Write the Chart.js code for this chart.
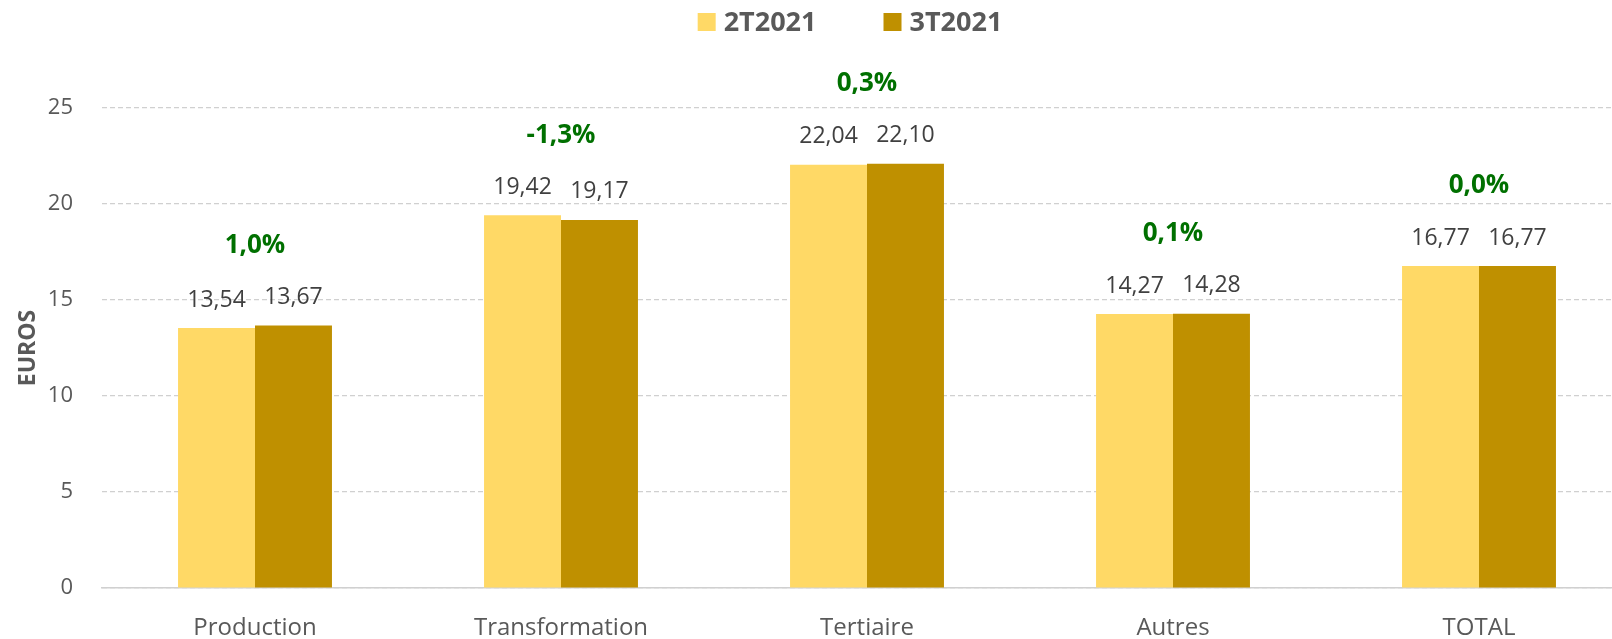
<!DOCTYPE html>
<html>
<head>
<meta charset="utf-8">
<script src="https://cdn.jsdelivr.net/npm/chart.js@4.4.1/dist/chart.umd.min.js"></script>
<style>
  html, body { margin: 0; padding: 0; background: #fff; overflow: hidden; }
  #wrap { width: 1612px; height: 639px; overflow: hidden; }
</style>
</head>
<body>
<div id="wrap"><canvas id="canvas" width="1632" height="639"></canvas></div>
<script>
const categories = ["Production", "Transformation", "Tertiaire", "Autres", "TOTAL"];
const seriesNames = ["2T2021", "3T2021"];
const values2T = [13.54, 19.42, 22.04, 14.27, 16.77];
const values3T = [13.67, 19.17, 22.10, 14.28, 16.77];
const changes = ["1,0%", "-1,3%", "0,3%", "0,1%", "0,0%"];
const yTicks = [0, 5, 10, 15, 20, 25];

const colors = {
    light: "#FFD966",
    dark: "#BF9000",
    text: "#595959",
    label: "#404040",
    green: "#007000",
    grid: "#D0D0D0"
};
const FONT = "'Open Sans', sans-serif";

function fmt(v) {
    return v.toFixed(2).replace(".", ",");
}

// value labels, percentage labels and the legend at the top
const labelsPlugin = {
    id: "labelsPlugin",
    afterDraw(chart) {
        const ctx = chart.ctx;
        ctx.save();
        ctx.textAlign = "center";
        ctx.textBaseline = "middle";

        // values above each bar
        ctx.font = "23px " + FONT;
        ctx.fillStyle = colors.label;
        chart.data.datasets.forEach((ds, di) => {
            chart.getDatasetMeta(di).data.forEach((bar, i) => {
                ctx.fillText(fmt(ds.data[i]), bar.x, bar.y - 28);
            });
        });

        // change in percent above each category
        ctx.font = "bold 26px " + FONT;
        ctx.fillStyle = colors.green;
        const xScale = chart.scales.x;
        categories.forEach((c, i) => {
            let top = Infinity;
            chart.data.datasets.forEach((ds, di) => {
                top = Math.min(top, chart.getDatasetMeta(di).data[i].y);
            });
            ctx.fillText(changes[i], xScale.getPixelForValue(i), top - 80);
        });

        // legend
        ctx.font = "bold 27px " + FONT;
        ctx.textAlign = "left";
        const box = 18, gapText = 8, gapItem = 67;
        const widths = chart.data.datasets.map(ds => box + gapText + ctx.measureText(ds.label).width);
        const total = widths.reduce((a, b) => a + b, 0) + gapItem * (widths.length - 1);
        const area = chart.chartArea;
        let x = (area.left + area.right) / 2 - 17 - total / 2;
        const y = 22;
        chart.data.datasets.forEach((ds, di) => {
            ctx.fillStyle = ds.backgroundColor;
            ctx.fillRect(x, y - box / 2, box, box);
            ctx.fillStyle = colors.text;
            ctx.fillText(ds.label, x + box + gapText, y + 1);
            x += widths[di] + gapItem;
        });
        ctx.restore();
    }
};

const ctx = document.getElementById("canvas").getContext("2d");

new Chart(ctx, {
    type: "bar",
    data: {
        labels: categories,
        datasets: [
            { label: seriesNames[0], data: values2T, backgroundColor: colors.light },
            { label: seriesNames[1], data: values3T, backgroundColor: colors.dark }
        ]
    },
    options: {
        responsive: false,
        animation: false,
        layout: {
            padding: { top: 108, right: 0, left: 10, bottom: 0 }
        },
        datasets: {
            bar: {
                barPercentage: 1,
                categoryPercentage: 0.503
            }
        },
        plugins: {
            legend: { display: false },
            tooltip: { enabled: false }
        },
        scales: {
            x: {
                grid: { display: false },
                border: { display: true, color: colors.grid, width: 1.5 },
                ticks: {
                    color: colors.text,
                    font: { family: FONT, size: 24 },
                    padding: 18,
                    maxRotation: 0
                },
                afterFit(scale) {
                    scale.height = 51;
                }
            },
            y: {
                min: 0,
                max: 25,
                afterBuildTicks(scale) {
                    scale.ticks = yTicks.map(v => ({ value: v }));
                },
                grid: {
                    color: colors.grid,
                    lineWidth: 1.2,
                    drawTicks: false
                },
                border: { display: false, dash: [5, 3] },
                ticks: {
                    color: colors.text,
                    font: { family: FONT, size: 22 },
                    padding: 29
                },
                title: {
                    display: true,
                    text: "EUROS",
                    color: colors.text,
                    font: { family: FONT, size: 23, weight: "bold" },
                    padding: { top: 5, bottom: 0 }
                },
                afterFit(scale) {
                    scale.width = 92;
                }
            }
        }
    },
    plugins: [labelsPlugin]
});
</script>
</body>
</html>
